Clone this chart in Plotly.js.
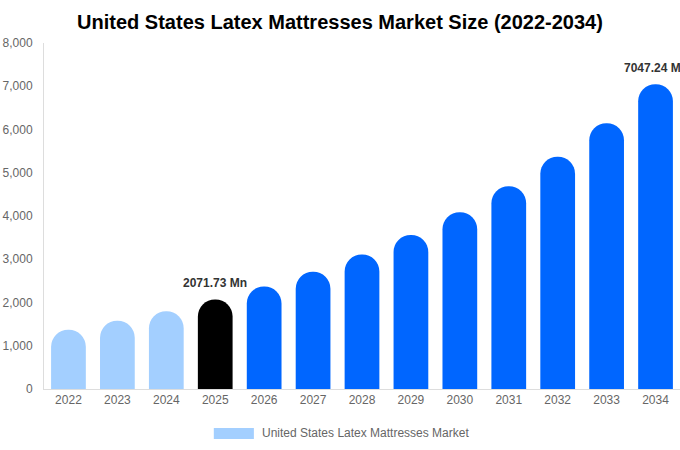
<!DOCTYPE html>
<html>
<head>
<meta charset="utf-8">
<script src="https://cdn.plot.ly/plotly-3.0.1.min.js"></script>
<style>
  html, body { margin: 0; padding: 0; background: #fff; }
  #chart { width: 680px; height: 450px; }
</style>
</head>
<body>
<div id="chart"></div>
<script>
// market size, USD Mn
const years = ['2022', '2023', '2024', '2025', '2026', '2027', '2028',
               '2029', '2030', '2031', '2032', '2033', '2034'];
const marketSize = [1370, 1580, 1800, 2071.73, 2370, 2710, 3110,
                    3560, 4085, 4690, 5370, 6145, 7047.24];
const seriesName = 'United States Latex Mattresses Market';
const labelledYears = ['2025', '2034'];

const PAST = '#a3cfff', CURRENT = '#000000', FUTURE = '#0066ff';

// colour per bar: history light, base year black, forecast blue
const barColors = years.map(y => {
  if (+y < 2025) return PAST;
  if (+y === 2025) return CURRENT;
  return FUTURE;
});

const trace = {
  type: 'bar',
  x: years,
  y: marketSize,
  name: seriesName,
  marker: { color: barColors, cornerradius: '50%' },
  hoverinfo: 'x+y',
  showlegend: false
};

// value labels above the two highlighted bars
// (category axis: annotation x is the category index, year strings look numeric)
const annotations = labelledYears.map(yr => {
  const i = years.indexOf(yr);
  return {
    x: i, y: marketSize[i], xref: 'x', yref: 'y',
    text: '<b>' + marketSize[i].toFixed(2) + ' Mn</b>',
    showarrow: false, yanchor: 'bottom', yshift: 7,
    font: { family: 'Liberation Sans, Arial, sans-serif', size: 12, color: '#333333' }
  };
});

// hand-made legend so the swatch is wide like the original
annotations.push({
  x: 0.3396, y: -0.1286, xref: 'paper', yref: 'paper',
  text: seriesName, showarrow: false, xanchor: 'left', yanchor: 'middle',
  font: { family: 'Liberation Sans, Arial, sans-serif', size: 12, color: '#666666' }
});

const layout = {
  width: 680,
  height: 450,
  margin: { l: 44, r: 0, t: 43, b: 61, autoexpand: false },
  paper_bgcolor: '#ffffff',
  plot_bgcolor: '#ffffff',
  font: { family: 'Liberation Sans, Arial, sans-serif', size: 12, color: '#666666' },
  title: {
    text: '<b>United States Latex Mattresses Market Size (2022-2034)</b>',
    x: 0.5, xref: 'container', y: 0.951, yanchor: 'middle',
    font: { family: 'Liberation Sans, Arial, sans-serif', size: 20, color: '#000000' }
  },
  bargap: 0.29,
  xaxis: {
    type: 'category',
    // fixed so the end label does not widen the range; it gets clipped like the original
    range: [-0.5, years.length - 0.5],
    showgrid: false,
    showline: true,
    linecolor: '#dddddd',
    linewidth: 1,
    ticks: '',
    tickfont: { size: 12, color: '#666666' },
    fixedrange: true
  },
  yaxis: {
    range: [0, 8000],
    dtick: 1000,
    tickformat: ',d',
    showgrid: false,
    zeroline: false,
    showline: true,
    linecolor: '#dddddd',
    linewidth: 1,
    ticks: '',
    ticklabelstandoff: 8,
    tickfont: { size: 12, color: '#666666' },
    fixedrange: true
  },
  shapes: [{
    type: 'rect', xref: 'paper', yref: 'paper',
    x0: 0.267, x1: 0.330, y0: -0.1127, y1: -0.1445,
    fillcolor: PAST, line: { width: 0 }
  }],
  annotations: annotations,
  showlegend: false
};

Plotly.newPlot('chart', [trace], layout, { displayModeBar: false, responsive: false });
</script>
</body>
</html>
